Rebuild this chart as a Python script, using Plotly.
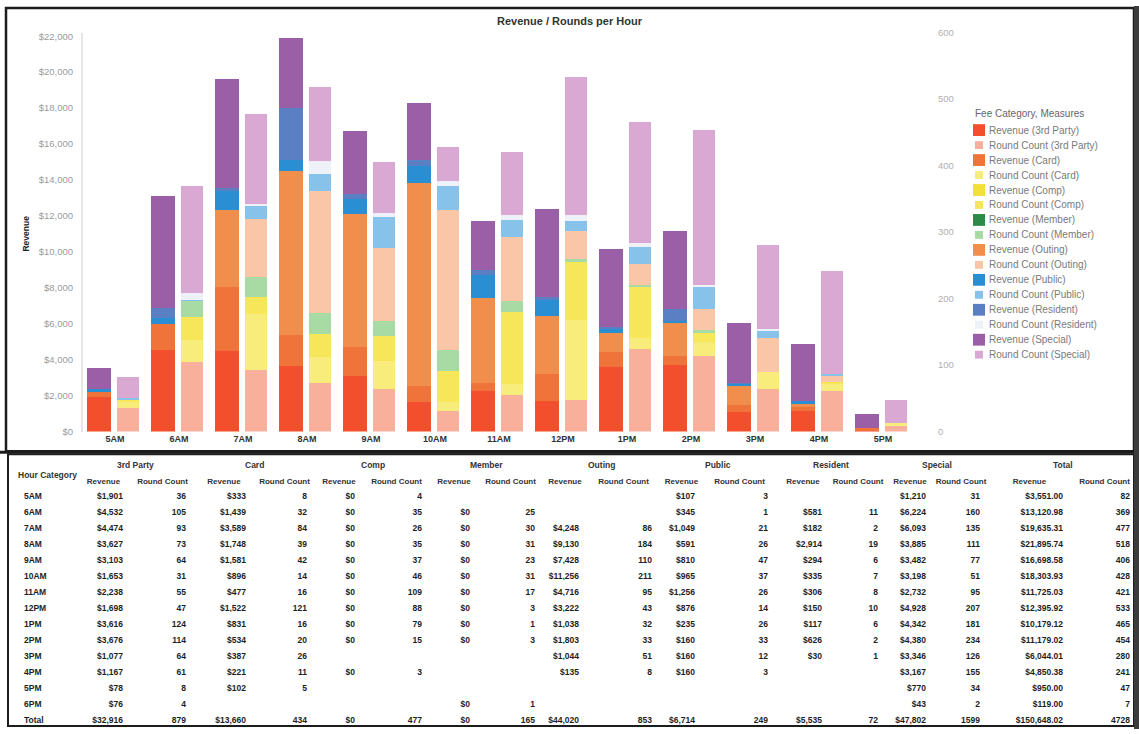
import plotly.graph_objects as go

# ---------------------------------------------------------------- data
hours = ["5AM", "6AM", "7AM", "8AM", "9AM", "10AM", "11AM", "12PM",
         "1PM", "2PM", "3PM", "4PM", "5PM", "6PM"]
chart_hours = hours[:13]          # the chart runs 5AM - 5PM

fee_categories = ["3rd Party", "Card", "Comp", "Member", "Outing",
                  "Public", "Resident", "Special"]

rev_3rd_party = [1901.00, 4531.75, 4474.12, 3627.40, 3103.00, 1653.00, 2238.00,
                 1698.00, 3616.00, 3676.00, 1077.00, 1167.00, 78.00, 76.00]
rc_3rd_party = [36, 105, 93, 73, 64, 31, 55, 47, 124, 114, 64, 61, 8, 4]

rev_card = [333.00, 1439.00, 3589.40, 1748.00, 1581.00, 896.00, 477.00,
            1522.00, 831.00, 534.00, 387.00, 221.00, 102.00, None]
rc_card = [8, 32, 84, 39, 42, 14, 16, 121, 16, 20, 26, 11, 5, None]

rev_comp = [0, 0, 0, 0, 0, 0, 0, 0, 0, 0, None, 0, None, None]
rc_comp = [4, 35, 26, 35, 37, 46, 109, 88, 79, 15, None, 3, None, None]

rev_member = [None, 0, 0, 0, 0, 0, 0, 0, 0, 0, None, None, None, 0]
rc_member = [None, 25, 30, 31, 23, 31, 17, 3, 1, 3, None, None, None, 1]

rev_outing = [None, None, 4248.00, 9130.00, 7428.08, 11256.43, 4716.03,
              3221.92, 1038.00, 1803.02, 1044.00, 135.00, None, None]
rc_outing = [None, None, 86, 184, 110, 211, 95, 43, 32, 33, 51, 8, None, None]

rev_public = [107.00, 345.00, 1049.25, 591.00, 810.00, 965.00, 1256.00,
              876.00, 235.00, 160.00, 160.00, 160.00, None, None]
rc_public = [3, 1, 21, 26, 47, 37, 26, 14, 26, 33, 12, 3, None, None]

rev_resident = [None, 581.00, 182.00, 2914.00, 294.00, 335.00, 306.00,
                150.00, 117.00, 626.00, 30.00, None, None, None]
rc_resident = [None, 11, 2, 19, 6, 7, 8, 10, 6, 2, 1, None, None, None]

rev_special = [1210.00, 6224.23, 6092.54, 3885.34, 3482.50, 3198.50, 2732.00,
               4928.00, 4342.12, 4380.00, 3346.01, 3167.38, 770.00, 43.00]
rc_special = [31, 160, 135, 111, 77, 51, 95, 207, 181, 234, 126, 155, 34, 2]

revenue_by_category = [rev_3rd_party, rev_card, rev_comp, rev_member,
                       rev_outing, rev_public, rev_resident, rev_special]
rounds_by_category = [rc_3rd_party, rc_card, rc_comp, rc_member,
                      rc_outing, rc_public, rc_resident, rc_special]

revenue_colors = ["#f34f2d", "#f0733a", "#f2df3a", "#2e8a47",
                  "#f28e4c", "#2a8ed3", "#5a7fc3", "#9b5fa8"]
round_colors = ["#f8af9b", "#f7ec7c", "#f5e65a", "#a8dba3",
                "#fac6a8", "#86c2ea", "#eef2f8", "#d9a9d4"]

revenue_ticks = list(range(0, 22001, 2000))

# ---------------------------------------------------------------- layout helpers
W, H = 1139, 734
FONT = "Liberation Sans, Arial, sans-serif"
NBSP = "\u00a0"


def fx(px):
    return px / W


def fy(py):
    return 1 - py / H


PLOT_L, PLOT_R, PLOT_T, PLOT_B = 83, 915, 27, 432

fig = go.Figure()

# revenue stack (left bar of every hour)
for cat, vals, col in zip(fee_categories, revenue_by_category, revenue_colors):
    fig.add_trace(go.Bar(
        x=chart_hours, y=vals[:len(chart_hours)], name=f"Revenue ({cat})",
        marker=dict(color=col, line=dict(width=0)),
        offset=-0.44, width=0.385, xaxis="x", yaxis="y", showlegend=False,
        hovertemplate="%{x}<br>Revenue (" + cat + "): $%{y:,.2f}<extra></extra>"))

# round-count stack (right bar of every hour)
for cat, vals, col in zip(fee_categories, rounds_by_category, round_colors):
    fig.add_trace(go.Bar(
        x=chart_hours, y=vals[:len(chart_hours)], name=f"Round Count ({cat})",
        marker=dict(color=col, line=dict(width=0)),
        offset=0.03, width=0.35, xaxis="x", yaxis="y2", showlegend=False,
        hovertemplate="%{x}<br>Round Count (" + cat + "): %{y}<extra></extra>"))

# ---------------------------------------------------------------- table
def fmt_rev(v):
    return "" if v is None else f"${v:,.0f}"


def fmt_rc(v):
    return "" if v is None else f"{v}"


def total(vals):
    present = [v for v in vals if v is not None]
    return sum(present) if present else None


hour_rev_total = [sum(s[i] for s in revenue_by_category if s[i] is not None)
                  for i in range(len(hours))]
hour_rc_total = [sum(s[i] for s in rounds_by_category if s[i] is not None)
                 for i in range(len(hours))]

table_columns = [hours + ["Total"]]
for rev, rc in zip(revenue_by_category, rounds_by_category):
    table_columns.append([fmt_rev(v) for v in rev] + [fmt_rev(total(rev))])
    table_columns.append([fmt_rc(v) for v in rc] + [fmt_rc(total(rc))])
table_columns.append([f"${v:,.2f}" for v in hour_rev_total]
                     + [f"${sum(hour_rev_total):,.2f}"])
table_columns.append([f"{v}" for v in hour_rc_total] + [f"{sum(hour_rc_total)}"])

col_widths = [60, 55, 63, 60, 61, 48, 67, 48, 65, 44, 73, 43, 73, 54, 56, 48, 54, 83, 67]
TABLE_L, TABLE_R = 16, 1138
TABLE_T, TABLE_B = 471, 734
header_labels = [""] + ["Revenue", f"Round{NBSP}Count"] * (len(fee_categories) + 1)

fig.add_trace(go.Table(
    domain=dict(x=[fx(TABLE_L), fx(TABLE_R)], y=[fy(TABLE_B), fy(TABLE_T)]),
    columnwidth=col_widths,
    header=dict(values=header_labels,
                align=["left"] + ["center"] * (len(header_labels) - 1),
                height=15, fill_color="white", line_color="white",
                font=dict(family=FONT, size=8, color="#333333", weight="bold")),
    cells=dict(values=table_columns,
               align=["left"] + ["right"] * (len(table_columns) - 1),
               height=16, fill_color="white", line_color="white",
               font=dict(family=FONT, size=8.5, color="#1e1e1e", weight="bold")),
))

annotations = []

# group labels spanning each Revenue / Round Count pair
scale = (TABLE_R - TABLE_L) / sum(col_widths)
edges = [TABLE_L]
for w in col_widths:
    edges.append(edges[-1] + w * scale)
for k, grp in enumerate(fee_categories + ["Total"]):
    centre = (edges[1 + 2 * k] + edges[3 + 2 * k]) / 2
    annotations.append(dict(
        x=fx(centre), y=fy(466), xref="paper", yref="paper", text=grp,
        showarrow=False, xanchor="center", yanchor="middle",
        font=dict(family=FONT, size=8.5, color="#333333", weight="bold")))
annotations.append(dict(
    x=fx(16), y=fy(476), xref="paper", yref="paper", text="Hour Category",
    showarrow=False, xanchor="left", yanchor="middle",
    font=dict(family=FONT, size=8.5, color="#333333", weight="bold")))

# axis title for revenue
annotations.append(dict(
    x=fx(26), y=fy(231), xref="paper", yref="paper", text="Revenue",
    textangle=-90, showarrow=False, xanchor="center", yanchor="middle",
    font=dict(family=FONT, size=8.5, color="#222222", weight="bold")))

# ---------------------------------------------------------------- legend
shapes = []
LEG_X, LEG_Y0, LEG_STEP = 973, 126, 15.2
annotations.append(dict(
    x=fx(LEG_X), y=fy(109), xref="paper", yref="paper",
    text="Fee Category, Measures", showarrow=False, xanchor="left",
    yanchor="middle", font=dict(family=FONT, size=10, color="#666666")))
row = 0
for cat, rcol, ccol in zip(fee_categories, revenue_colors, round_colors):
    for label, colr, size in ((f"Revenue ({cat})", rcol, 12),
                              (f"Round Count ({cat})", ccol, 8)):
        yc = LEG_Y0 + row * LEG_STEP
        xc = LEG_X + 6
        shapes.append(dict(type="rect", xref="paper", yref="paper",
                           x0=fx(xc - size / 2), x1=fx(xc + size / 2),
                           y0=fy(yc + size / 2), y1=fy(yc - size / 2),
                           fillcolor=colr, line=dict(width=0)))
        annotations.append(dict(
            x=fx(LEG_X + 14), y=fy(yc), xref="paper", yref="paper",
            text=label, showarrow=False, xanchor="left", yanchor="middle",
            font=dict(family=FONT, size=10, color="#7a7a7a")))
        row += 1

# ---------------------------------------------------------------- frames
dark = "#1c1c1c"
shapes += [
    dict(type="rect", xref="paper", yref="paper", x0=fx(6), x1=fx(1134),
         y0=fy(452), y1=fy(2), line=dict(color=dark, width=2.5)),
    dict(type="line", xref="paper", yref="paper", x0=0, x1=1,
         y0=fy(453), y1=fy(453), line=dict(color=dark, width=3)),
    dict(type="rect", xref="paper", yref="paper", x0=fx(8), x1=fx(1134),
         y0=fy(731), y1=fy(455), line=dict(color=dark, width=2)),
    dict(type="rect", xref="paper", yref="paper", x0=fx(1134), x1=1,
         y0=0, y1=1, fillcolor="#3c3c3c", line=dict(width=0)),
]

fig.update_layout(
    width=W, height=H, autosize=False,
    margin=dict(l=0, r=0, t=0, b=0),
    paper_bgcolor="white", plot_bgcolor="white",
    barmode="stack", bargap=0.2,
    font=dict(family=FONT, size=9, color="#555555"),
    title=dict(text="Revenue / Rounds per Hour", x=0.5, xanchor="center",
               y=fy(15), yanchor="middle", xref="paper", yref="paper",
               font=dict(family=FONT, size=11, color="#333333", weight="bold")),
    xaxis=dict(domain=[fx(PLOT_L), fx(PLOT_R)], anchor="y", type="category",
               categoryorder="array", categoryarray=chart_hours,
               range=[-0.5, len(chart_hours) - 0.5],
               showgrid=False, showline=False, zeroline=False, ticks="",
               tickfont=dict(family=FONT, size=9, color="#333333", weight="bold")),
    yaxis=dict(domain=[fy(PLOT_B), fy(PLOT_T)], anchor="x",
               range=[0, 22200], tickmode="array", tickvals=revenue_ticks,
               ticktext=[f"${v:,}" for v in revenue_ticks],
               showgrid=False, zeroline=False,
               showline=True, linecolor="#e6e6e6", linewidth=2,
               ticks="outside", ticklen=6, tickcolor="rgba(0,0,0,0)",
               tickfont=dict(family=FONT, size=9.5, color="#9a9a9a")),
    yaxis2=dict(overlaying="y", side="right", anchor="x",
                range=[0, 600], dtick=100, showgrid=False, zeroline=False,
                showline=False, ticks="outside", ticklen=20,
                tickcolor="rgba(0,0,0,0)",
                tickfont=dict(family=FONT, size=9.5, color="#b0b0b0")),
    annotations=annotations,
    shapes=shapes,
)

fig.write_html("out.html")
